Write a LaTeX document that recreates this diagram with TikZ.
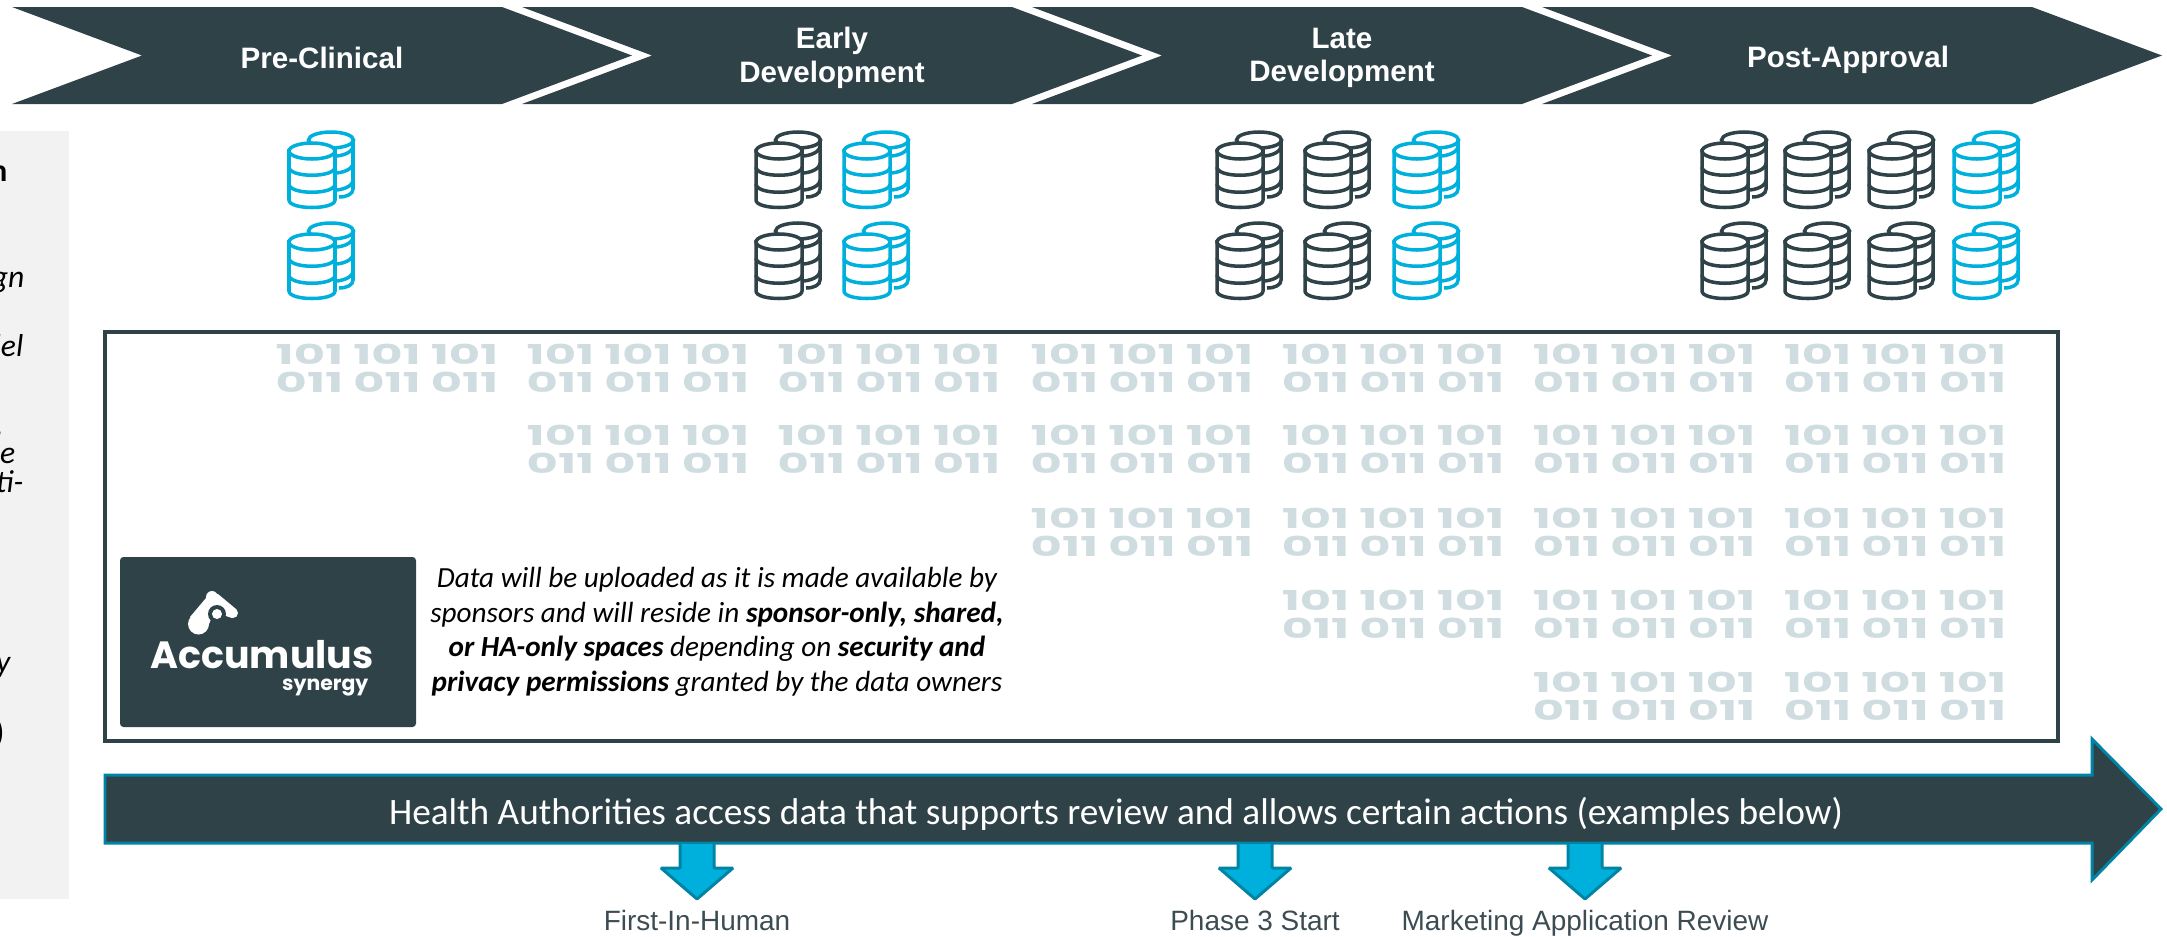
\documentclass[tikz,border=0pt]{standalone}
\usepackage{fontspec}
\setmainfont{Carlito}
\newfontfamily\arialfont{Liberation Sans}
\newfontfamily\binfont{Poppins}
\newfontfamily\logofont{Poppins}
\usepackage{tikz}
\usepackage{xcolor}
\definecolor{slatedark}{HTML}{2E4248}
\definecolor{skyblue}{HTML}{00B0DC}
\definecolor{tealedge}{HTML}{0084A6}
\definecolor{binarygrey}{HTML}{D0DDE0}
\definecolor{panelgrey}{HTML}{F2F2F2}
\definecolor{labelgrey}{HTML}{3C4C52}
\newcommand{\binrows}{\scalebox{1.75}[1]{\begin{tabular}{@{}c@{}}101 101 101\\011 011 011\end{tabular}}}
\tikzset{
  chevlabel/.style={font=\arialfont\bfseries\fontsize{8.4}{9.5}\selectfont,text=white,align=center,inner sep=0pt},
  binblock/.style={font=\binfont\bfseries\fontsize{7.8}{7}\selectfont,text=binarygrey,inner sep=0pt},
  panelbit/.style={font=\fontsize{9}{10}\selectfont\itshape,text=black,anchor=base east,inner sep=0pt},
  actionlabel/.style={font=\arialfont\fontsize{7.95}{9}\selectfont,text=labelgrey,inner sep=0pt,anchor=base},
  downarrow/.style={fill=skyblue,draw=tealedge,line width=0.85pt,line join=bevel},
  pics/dbicon/.style={code={
    \draw[#1,line width=1pt] (64,8) -- (64,57) .. controls (64,62) and (58,65) .. (50,65);
    \draw[#1,line width=1pt] (42,8) ellipse [x radius=22.5,y radius=8];
    \draw[#1,line width=1pt] (46,24) .. controls (54,24) and (64,20) .. (64,14);
    \draw[#1,line width=1pt] (46,41) .. controls (54,41) and (64,37) .. (64,31);
    \draw[#1,line width=1pt] (46,58) .. controls (54,58) and (64,54) .. (64,48);
    \draw[#1,line width=1pt,fill=white] (0,19) -- (0,68) .. controls (0,78) and (46,78) .. (46,68) -- (46,19) -- cycle;
    \draw[#1,line width=1pt,fill=white] (23,19) ellipse [x radius=23,y radius=8];
    \draw[#1,line width=1pt] (0,35) .. controls (0,46) and (46,46) .. (46,35);
    \draw[#1,line width=1pt] (0,52) .. controls (0,63) and (46,63) .. (46,52);
  }}
}
\begin{document}
\begin{tikzpicture}[x=0.01cm,y=-0.01cm]
\useasboundingbox (0,0) rectangle (2167,936);
\pgfmathsetmacro{\chevw}{490}
\pgfmathsetmacro{\chevp}{130}
\pgfmathsetmacro{\chevh}{97}
% phases
\fill[slatedark] (12,7) -- ++(\chevw,0) -- ++(\chevp,\chevh/2) -- ++(-\chevp,\chevh/2) -- ++(-\chevw,0) -- ++(\chevp,-\chevh/2) -- cycle;
\fill[slatedark] (522,7) -- ++(\chevw,0) -- ++(\chevp,\chevh/2) -- ++(-\chevp,\chevh/2) -- ++(-\chevw,0) -- ++(\chevp,-\chevh/2) -- cycle;
\fill[slatedark] (1032,7) -- ++(\chevw,0) -- ++(\chevp,\chevh/2) -- ++(-\chevp,\chevh/2) -- ++(-\chevw,0) -- ++(\chevp,-\chevh/2) -- cycle;
\fill[slatedark] (1542,7) -- ++(\chevw,0) -- ++(\chevp,\chevh/2) -- ++(-\chevp,\chevh/2) -- ++(-\chevw,0) -- ++(\chevp,-\chevh/2) -- cycle;
\node[chevlabel] (preclinical) at (322,58) {Pre-Clinical};
\node[chevlabel] (earlydev) at (832,58) {Early\\Development};
\node[chevlabel] (latedev) at (1342,58) {Late\\Development};
\node[chevlabel] (postapproval) at (1848,60) {Post-Approval};
% side panel
\fill[panelgrey] (0,131) rectangle (69,899);
\node[panelbit,font=\fontsize{9}{10}\selectfont\bfseries] (panelhead) at (8,181) {n};
\node[panelbit] (panela) at (25,287) {gn};
\node[panelbit] (panelb) at (24,356) {del};
\node[panelbit] (panelc) at (4,434) {,};
\node[panelbit] (paneld) at (16,463) {be};
\node[panelbit] (panele) at (24,492) {ti-};
\node[panelbit] (panelf) at (11,672) {y};
\node[panelbit] (panelg) at (5,745) {)};
% databases
\pic at (289,132) {dbicon=skyblue};
\pic at (289,223) {dbicon=skyblue};
\pic at (756,132) {dbicon=slatedark};
\pic at (756,223) {dbicon=slatedark};
\pic at (844,132) {dbicon=skyblue};
\pic at (844,223) {dbicon=skyblue};
\pic at (1217,132) {dbicon=slatedark};
\pic at (1217,223) {dbicon=slatedark};
\pic at (1305,132) {dbicon=slatedark};
\pic at (1305,223) {dbicon=slatedark};
\pic at (1394,132) {dbicon=skyblue};
\pic at (1394,223) {dbicon=skyblue};
\pic at (1702,132) {dbicon=slatedark};
\pic at (1702,223) {dbicon=slatedark};
\pic at (1785,132) {dbicon=slatedark};
\pic at (1785,223) {dbicon=slatedark};
\pic at (1869,132) {dbicon=slatedark};
\pic at (1869,223) {dbicon=slatedark};
\pic at (1954,132) {dbicon=skyblue};
\pic at (1954,223) {dbicon=skyblue};
% data store
\draw[slatedark,line width=1.15pt] (105,332) rectangle (2058,741);
\node[binblock] (binAa) at (387,372) {\binrows};
\node[binblock] (binAb) at (638,372) {\binrows};
\node[binblock] (binAc) at (889,372) {\binrows};
\node[binblock] (binAd) at (1142,372) {\binrows};
\node[binblock] (binAe) at (1393,372) {\binrows};
\node[binblock] (binAf) at (1644,372) {\binrows};
\node[binblock] (binAg) at (1895,372) {\binrows};
\node[binblock] (binBb) at (638,453) {\binrows};
\node[binblock] (binBc) at (889,453) {\binrows};
\node[binblock] (binBd) at (1142,453) {\binrows};
\node[binblock] (binBe) at (1393,453) {\binrows};
\node[binblock] (binBf) at (1644,453) {\binrows};
\node[binblock] (binBg) at (1895,453) {\binrows};
\node[binblock] (binCd) at (1142,536) {\binrows};
\node[binblock] (binCe) at (1393,536) {\binrows};
\node[binblock] (binCf) at (1644,536) {\binrows};
\node[binblock] (binCg) at (1895,536) {\binrows};
\node[binblock] (binDe) at (1393,618) {\binrows};
\node[binblock] (binDf) at (1644,618) {\binrows};
\node[binblock] (binDg) at (1895,618) {\binrows};
\node[binblock] (binEf) at (1644,700) {\binrows};
\node[binblock] (binEg) at (1895,700) {\binrows};
% logo
\fill[slatedark,rounded corners=1pt] (120,557) rectangle (416,727);
\fill[white] (198.5,624) circle (10.5);
\fill[white] (212,597) circle (6);
\fill[white] (233,613) circle (5);
\fill[white] (206,598) -- (190,617) -- (207,629) -- (214,612) -- (232,618) -- (236,609) -- (218,594) -- cycle;
\fill[slatedark] (217,614) circle (9);
\fill[white] (217,614) circle (5);
\node[font=\logofont\bfseries\fontsize{10.8}{12}\selectfont,text=white,inner sep=0pt,anchor=base] (logoname) at (262,668) {Accumulus};
\node[font=\logofont\bfseries\fontsize{5.8}{7}\selectfont,text=white,inner sep=0pt,anchor=base east] (logosub) at (369,690) {synergy};
\node[font=\fontsize{8.3}{9.8}\selectfont\itshape,align=center,inner sep=0pt] (uploadnote) at (717,632) {Data will be uploaded as it is made available by\\sponsors and will reside in \textbf{sponsor-only, shared,}\\\textbf{or HA-only spaces} depending on \textbf{security and}\\\textbf{privacy permissions} granted by the data owners};
% review bar
\draw[slatedark,fill=slatedark] (105,775) -- (2092,775) -- (2092,739) -- (2161,809) -- (2092,880) -- (2092,843) -- (105,843) -- cycle;
\draw[tealedge,line width=0.85pt] (105,775) -- (2092,775) -- (2092,739) -- (2161,809) -- (2092,880) -- (2092,843) -- (105,843) -- cycle;
\node[font=\fontsize{10.6}{12}\selectfont,text=white,inner sep=0pt] (reviewtext) at (1116,814) {Health Authorities access data that supports review and allows certain actions (examples below)};
% actions
\draw[downarrow] (680,844) -- ++(0,24) -- ++(-19,0) -- ++(36,31) -- ++(36,-31) -- ++(-19,0) -- ++(0,-24);
\draw[downarrow] (1238,844) -- ++(0,24) -- ++(-19,0) -- ++(36,31) -- ++(36,-31) -- ++(-19,0) -- ++(0,-24);
\draw[downarrow] (1568,844) -- ++(0,24) -- ++(-19,0) -- ++(36,31) -- ++(36,-31) -- ++(-19,0) -- ++(0,-24);
\node[actionlabel] (firsthuman) at (697,930) {First-In-Human};
\node[actionlabel] (phasethree) at (1255,930) {Phase 3 Start};
\node[actionlabel] (marketing) at (1585,930) {Marketing Application Review};
\end{tikzpicture}
\end{document}
